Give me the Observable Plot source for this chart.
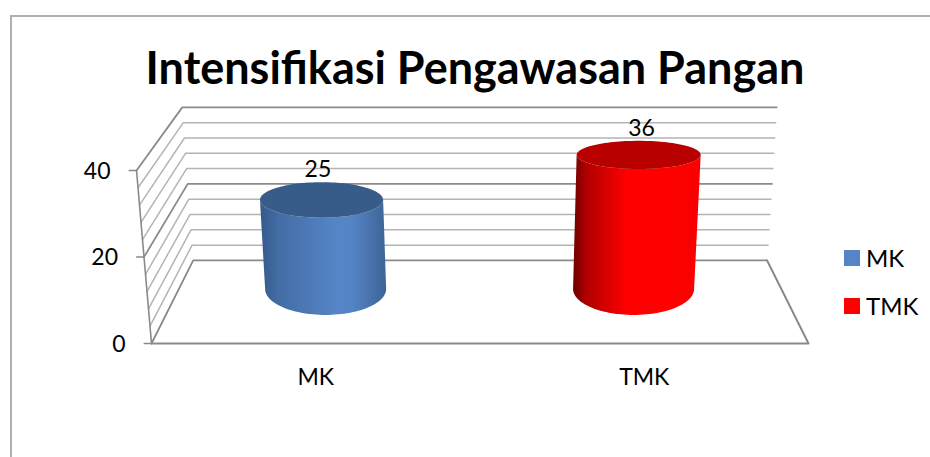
<!DOCTYPE html>
<html>
<head>
<meta charset="utf-8">
<script src="https://cdn.jsdelivr.net/npm/d3@7"></script>
<script src="https://cdn.jsdelivr.net/npm/@observablehq/plot@0.6"></script>
<style>
  html, body { margin: 0; padding: 0; background: #fff; }
  #stage { position: relative; width: 930px; height: 457px; overflow: hidden; font-family: Lato, sans-serif; color: #000; }
  #frame { position: absolute; left: 10px; top: 15px; right: -2px; bottom: -4px; border-left: 2px solid #b0b0b0; border-top: 2px solid #b0b0b0; }
  #title { position: absolute; left: 0; width: 950px; top: 37px; text-align: center; font-size: 45px; font-weight: 700; line-height: 60px; white-space: nowrap; }
  .key { position: absolute; left: 844px; font-size: 24px; line-height: 24px; display: flex; align-items: center; }
  .key i { display: block; width: 16px; height: 16px; margin-right: 6px; }
  svg { position: absolute; left: 0; top: 0; }
</style>
</head>
<body>
<div id="stage">
  <div id="frame"></div>
  <div id="chart"></div>
  <div id="title"></div>
  <div id="legend"></div>
</div>
<script>
const chartTitle = "Intensifikasi Pengawasan Pangan";
const categories = ["MK", "TMK"];
const values = [25, 36];
const sideColors = ["#5585c6", "#ff0000"];
const darkColors = ["#375c8a", "#b80000"];
const edgeColors = ["#35598a", "#6f0000"];
const tickLabels = [0, 20, 40];
const gridValues = [0, 4, 8, 12, 16, 20, 24, 28, 32, 36, 40];

document.getElementById("title").textContent = chartTitle;

// Perspective box: horizontal position a (0..1), depth d (0 front, 1 back), value v.
const lerp = (p, q, t) => p + (q - p) * t;
const boxX = (a, d, v) => {
  const t = v / 40;
  const frontL = -0.0228 * t, frontR = 1 + 0.0228 * t;
  const backL = lerp(0.0635, 0.0468, t), backR = lerp(0.937, 0.9516, t);
  return lerp(lerp(frontL, frontR, a), lerp(backL, backR, a), d);
};
const boxY = (d, v) => lerp(v, 19.2 + 0.885 * v, d);

const pt = (a, d, v) => ({x: boxX(a, d, v), y: boxY(d, v), v});

// Grid: front axis -> back left -> back right, one polyline per value
const gridPaths = gridValues.flatMap(v => [pt(0, 0, v), pt(0, 1, v), pt(1, 1, v)]);
const strong = v => tickLabels.includes(v);

// Cylinders
const cylDepth = 0.64;
const slot = i => 0.5 + (i - 0.5) * 0.51;
const cylCx = (i, v) => boxX(slot(i), cylDepth, v);
const baseY = 12.5;
const rxOf = v => 0.0921 * (1 + 0.0007 * v);
const ryOf = v => (26 - 0.33 * v) / 4.325;
const topYOf = v => baseY + 0.946 * v - 3.07;
const angles = d3.range(0, 1.0001, 1 / 60).map(t => t * Math.PI);

const bodyRows = (i, v) => angles.map(t => ({
  x1: cylCx(i, v) + rxOf(v) * Math.cos(t),
  y1: topYOf(v) - ryOf(v) * Math.sin(t),
  x2: cylCx(i, 0) + rxOf(0) * Math.cos(t),
  y2: baseY - ryOf(0) * Math.sin(t)
}));
const capRows = (i, v) => angles.map(t => ({
  x: cylCx(i, v) + rxOf(v) * Math.cos(t),
  y1: topYOf(v) - ryOf(v) * Math.sin(t),
  y2: topYOf(v) + ryOf(v) * Math.sin(t)
}));

const gradients = () => {
  const defs = d3.create("svg:defs");
  const peak = [0.6, 0.42];
  const fade = [0.8, 0.08];
  categories.forEach((c, i) => {
    const g = defs.append("linearGradient").attr("id", "side" + i);
    [[0, edgeColors[i]], [peak[i] * 0.25, d3.interpolateRgb(edgeColors[i], sideColors[i])(0.45)],
     [peak[i], sideColors[i]], [Math.max(peak[i] + 0.1, 0.72), sideColors[i]],
     [1, d3.interpolateRgb(sideColors[i], darkColors[i])(fade[i])]]
      .forEach(([o, col]) => g.append("stop").attr("offset", o).attr("stop-color", col));
  });
  return defs.node();
};

const axisRows = tickLabels.map(v => ({v, x: boxX(0, 0, v), y: v}));
const labelRows = categories.map((c, i) => ({c, v: values[i], x: boxX(slot(i), 0.5, values[i]), y: topYOf(values[i]) + ryOf(values[i])}));
const catRows = categories.map((c, i) => ({c, x: (i + 0.5) / categories.length}));

const plot = Plot.plot({
  width: 930,
  height: 457,
  marginLeft: 151,
  marginRight: 122,
  marginTop: 170,
  marginBottom: 114,
  x: {domain: [0, 1], axis: null},
  y: {domain: [0, 40], axis: null},
  style: {background: "transparent", fontFamily: "Lato, sans-serif", color: "#000", overflow: "visible"},
  marks: [
    gradients,
    // light grid first, strong lines on top
    ...gridValues.map(v => Plot.line(gridPaths.filter(p => p.v === v), {
      x: "x", y: "y",
      stroke: strong(v) ? "#8a8a8a" : "#b4b4b4",
      strokeWidth: strong(v) ? 1.8 : 1.5
    })),
    // floor front and right edges, front axis
    Plot.line([pt(0, 0, 0), pt(1, 0, 0), pt(1, 1, 0)], {x: "x", y: "y", stroke: "#8a8a8a", strokeWidth: 2}),
    Plot.line([pt(0, 0, 0), pt(0, 0, 40)], {x: "x", y: "y", stroke: "#8a8a8a", strokeWidth: 1.6}),
    // axis ticks
    Plot.link(axisRows, {x1: "x", y1: "y", x2: d => d.x - 0.012, y2: "y", stroke: "#8a8a8a", strokeWidth: 1.5}),
    Plot.text(axisRows, {x: "x", y: "y", text: d => String(d.v), dx: -26, dy: 1, textAnchor: "end", fontSize: 23}),
    // cylinders
    ...categories.flatMap((c, i) => [
      Plot.area(bodyRows(i, values[i]), {x1: "x1", y1: "y1", x2: "x2", y2: "y2", fill: `url(#side${i})`}),
      Plot.area(capRows(i, values[i]), {x1: "x", y1: "y1", x2: "x", y2: "y2", fill: darkColors[i]})
    ]),
    Plot.text(labelRows, {x: "x", y: "y", text: d => String(d.v), dx: -1, dy: -13, fontSize: 23}),
    Plot.text(catRows, {x: "x", y: () => 0, text: "c", dy: 34, fontSize: 23})
  ]
});
document.getElementById("chart").appendChild(plot);

const legend = document.getElementById("legend");
categories.forEach((c, i) => {
  const row = document.createElement("div");
  row.className = "key";
  row.style.top = (246 + i * 48) + "px";
  const sw = document.createElement("i");
  sw.style.background = sideColors[i];
  row.appendChild(sw);
  row.appendChild(document.createTextNode(c));
  legend.appendChild(row);
});
</script>
</body>
</html>
